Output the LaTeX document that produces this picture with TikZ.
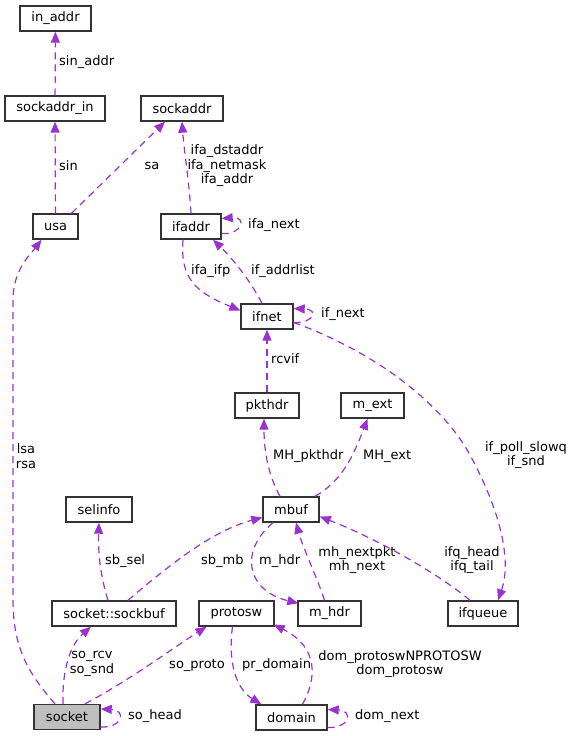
\documentclass[tikz,border=0pt]{standalone}
\usepackage{fontspec}
\setmainfont{DejaVu Sans}
\usetikzlibrary{arrows.meta,calc}
\definecolor{edgec}{HTML}{9A32CD}
\definecolor{boxc}{HTML}{333333}
\definecolor{selc}{HTML}{BFBFBF}
\begin{document}
\begin{tikzpicture}[x=1pt,y=-1pt,
  box/.style={draw=boxc,line width=1.4pt,minimum height=25pt,inner sep=0pt,fill=white,font=\fontsize{13}{15}\selectfont},
  rel/.style={draw=edgec,line width=1.2pt,dash pattern=on 7pt off 5pt,-{Triangle[length=11pt,width=9pt]}},
  lbl/.style={font=\fontsize{13}{14.5}\selectfont,inner sep=0pt,align=center}]
\useasboundingbox (0,0) rectangle (575,736);
% nodes
\node[box,minimum width=71pt] (in_addr) at (55.5,18.5) {in\_addr};
\node[box,minimum width=100pt] (sockaddr_in) at (55,108.5) {sockaddr\_in};
\node[box,minimum width=82pt] (sockaddr) at (182,108.5) {sockaddr};
\node[box,minimum width=45pt] (usa) at (55.5,226.5) {usa};
\node[box,minimum width=60pt] (ifaddr) at (191,226.5) {ifaddr};
\node[box,minimum width=52pt] (ifnet) at (267,316.5) {ifnet};
\node[box,minimum width=64pt] (pkthdr) at (267,405.5) {pkthdr};
\node[box,minimum width=63pt] (m_ext) at (372.5,405.5) {m\_ext};
\node[box,minimum width=66pt] (selinfo) at (99,509.5) {selinfo};
\node[box,minimum width=56pt] (mbuf) at (291,509.5) {mbuf};
\node[box,minimum width=124pt] (sockbuf) at (114,613.5) {socket::sockbuf};
\node[box,minimum width=75pt] (protosw) at (236.5,613.5) {protosw};
\node[box,minimum width=63pt] (m_hdr) at (329.5,613.5) {m\_hdr};
\node[box,minimum width=70pt] (ifqueue) at (483,613.5) {ifqueue};
\node[box,minimum width=66pt,fill=selc] (socket) at (67,717) {socket};
\node[box,minimum width=71pt] (domain) at (291.5,717.5) {domain};
% edges
\draw[rel] (sockaddr_in) -- (in_addr);
\node[lbl,anchor=west] (l1) at (59,62) {sin\_addr};
\draw[rel] (usa) -- (sockaddr_in);
\node[lbl,anchor=west] (l2) at (59,166) {sin};
\draw[rel] ($(usa.north)+(16,0)$) -- ($(sockaddr.south)+(-17,0)$);
\node[lbl] (l3) at (152,166) {sa};
\draw[rel] (ifaddr.north) .. controls (189,180) and (184,150) .. (sockaddr.south);
\node[lbl] (l4) at (227,166) {ifa\_dstaddr\\ifa\_netmask\\ifa\_addr};
\draw[rel] ($(ifaddr.east)+(0,7)$) .. controls +(20,2) and +(26,-2) .. ($(ifaddr.east)+(0,-8)$);
\node[lbl,anchor=west] (l5) at (248,225) {ifa\_next};
\draw[rel] ($(ifaddr.south)+(-8,0)$) .. controls (180,278) and (195,292) .. ($(ifnet.west)+(0,-6)$);
\node[lbl,anchor=west] (l6) at (191,271) {ifa\_ifp};
\draw[rel] ($(ifnet.north)+(-5,0)$) .. controls (250,280) and (232,258) .. ($(ifaddr.south)+(22,0)$);
\node[lbl,anchor=west] (l7) at (251,271) {if\_addrlist};
\draw[rel] ($(ifnet.east)+(0,6)$) .. controls +(20,1) and +(26,1) .. ($(ifnet.east)+(0,-8)$);
\node[lbl,anchor=west] (l8) at (321,314) {if\_next};
\draw[rel] (pkthdr.north) -- (ifnet.south);
\node[lbl,anchor=west] (l9) at (271,359) {rcvif};
\draw[rel] ($(ifnet.east)+(0,6)$) .. controls (370,350) and (440,400) .. (470,455) .. controls (500,510) and (512,560) .. ($(ifqueue.north)+(15,0)$);
\node[lbl] (l10) at (526,455) {if\_poll\_slowq\\if\_snd};
\draw[rel] ($(mbuf.north)+(-11,0)$) .. controls (268,475) and (264,450) .. ($(pkthdr.south)+(-3,0)$);
\node[lbl,anchor=west] (l11) at (273,456) {MH\_pkthdr};
\draw[rel] ($(mbuf.north)+(24,0)$) .. controls (340,482) and (352,460) .. ($(m_ext.south)+(-5,0)$);
\node[lbl,anchor=west] (l12) at (363,456) {MH\_ext};
\draw[rel] ($(sockbuf.north)+(-6,0)$) .. controls (100,575) and (98,550) .. (selinfo.south);
\node[lbl,anchor=west] (l13) at (105,561) {sb\_sel};
\draw[rel] ($(sockbuf.north)+(14,0)$) .. controls (175,560) and (215,530) .. ($(mbuf.west)+(0,8)$);
\node[lbl,anchor=west] (l14) at (201,561) {sb\_mb};
\draw[rel] ($(mbuf.south)+(-18,0)$) .. controls (240,550) and (245,590) .. ($(m_hdr.north west)+(1,3)$);
\node[lbl,anchor=west] (l15) at (259,561) {m\_hdr};
\draw[rel] ($(m_hdr.north)+(-5,0)$) .. controls (318,580) and (302,545) .. ($(mbuf.south)+(5,0)$);
\node[lbl] (l16) at (357,560) {mh\_nextpkt\\mh\_next};
\draw[rel] ($(ifqueue.north)+(-13,0)$) .. controls (440,575) and (380,540) .. ($(mbuf.east)+(0,7)$);
\node[lbl] (l17) at (472,560) {ifq\_head\\ifq\_tail};
\draw[rel] ($(socket.north)+(-12,0)$) .. controls (30,675) and (13,650) .. (13,600) -- (13,300) .. controls (13,270) and (30,255) .. ($(usa.south)+(-14,0)$);
\node[lbl] (l18) at (26,456) {lsa\\rsa};
\draw[rel] ($(socket.north)+(-4,0)$) .. controls (62,670) and (70,645) .. ($(sockbuf.south)+(-23,0)$);
\node[lbl] (l19) at (92,664) {so\_rcv\\so\_snd};
\draw[rel] ($(socket.north)+(18,0)$) .. controls (130,680) and (170,650) .. ($(protosw.south)+(-30,0)$);
\node[lbl] (l20) at (197,665) {so\_proto};
\draw[rel] ($(socket.east)+(0,10)$) .. controls +(22,1) and +(26,1) .. ($(socket.east)+(0,-8)$);
\node[lbl,anchor=west] (l21) at (128,716) {so\_head};
\draw[rel] ($(protosw.south)+(-4,0)$) .. controls (228,660) and (235,688) .. ($(domain.north west)+(6,0)$);
\node[lbl,anchor=west] (l22) at (242,665) {pr\_domain};
\draw[rel] ($(domain.north)+(11,0)$) .. controls (316,680) and (320,648) .. ($(protosw.east)+(-1,11)$);
\node[lbl] (l23) at (400,664) {dom\_protoswNPROTOSW\\dom\_protosw};
\draw[rel] ($(domain.east)+(0,10)$) .. controls +(22,1) and +(26,1) .. ($(domain.east)+(0,-8)$);
\node[lbl,anchor=west] (l24) at (355,716) {dom\_next};
\end{tikzpicture}
\end{document}
